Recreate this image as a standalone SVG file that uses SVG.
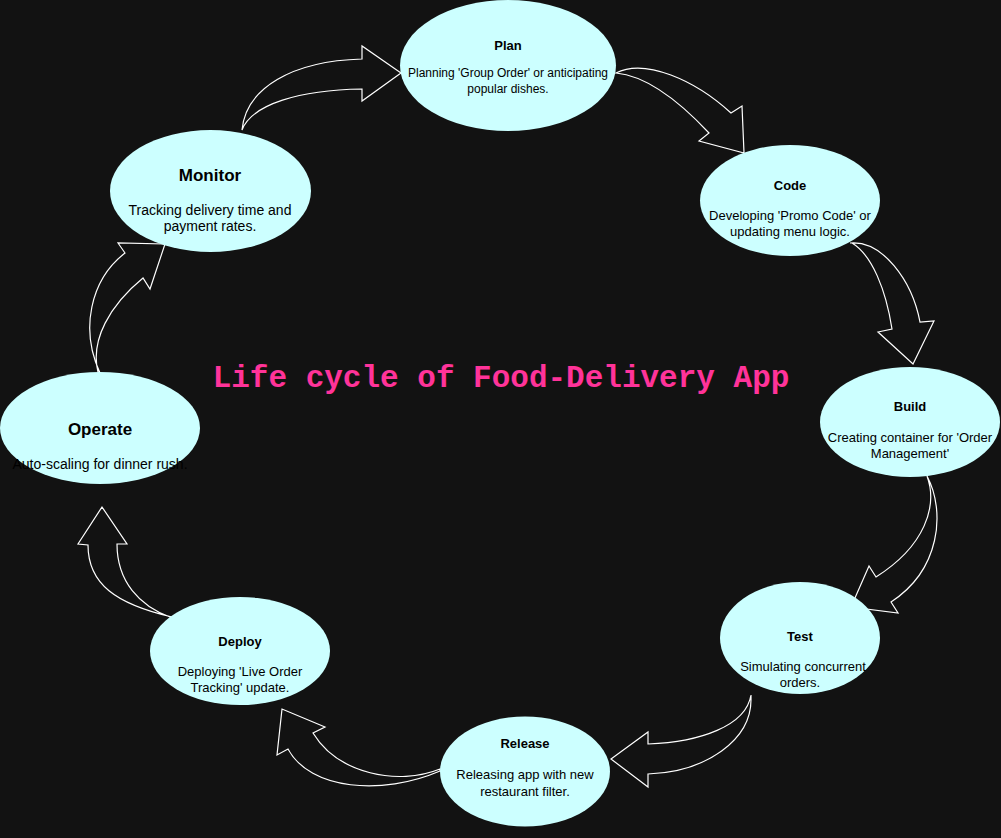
<svg xmlns="http://www.w3.org/2000/svg" width="1001" height="838" viewBox="0 0 1001 838">
<style>
.node{fill:#ccffff;stroke:none}
.t{font-family:"Liberation Sans",Arial,sans-serif;fill:#000;text-anchor:middle}
.h{font-weight:bold;font-size:13px}
.hb{font-weight:bold;font-size:17px}
.b12{font-size:12px}
.b13{font-size:13px}
.b14{font-size:14px}
.arr{fill:none;stroke:#ffffff;stroke-width:1.2;stroke-linejoin:miter}
.title{font-family:"Liberation Mono","Courier New",monospace;font-weight:bold;font-size:31px;fill:#ff3399;text-anchor:middle}
</style>
<rect width="1001" height="838" fill="#121212"/>
<g id="connectors">
<path class="arr" d="M242,130 C246,88 292,61 362,59 L362,46 L401,73 L362,101 L362,89 C300,90 252,104 242,130 Z"/>
<path class="arr" d="M616,73 C645,58 695,80 731,113 L742,106 L744,153 L699,141 L709,133 C680,102 648,76 616,73 Z"/>
<path class="arr" d="M850,243 C882,240 912,280 920,322 L934,321 L913,364 L878,332 L892,329 C886,290 872,255 852,243 Z"/>
<path class="arr" d="M927,476 C946,512 940,570 891,602 L898,613 L851,607 L869,566 L876,577 C925,546 938,506 927,476 Z"/>
<path class="arr" d="M751,695 C746,726 700,742 648,744 L648,732 L611,759 L648,787 L648,774 C706,772 752,740 751,698 Z"/>
<path class="arr" d="M440,769 C398,786 338,774 313,733 L325,727 L282,709 L277,755 L288,749 C310,790 382,796 440,771 Z"/>
<path class="arr" d="M172,617 C116,604 88,584 88,545 L78,544 L102,507 L127,544 L117,544 C117,582 140,606 170,617 Z"/>
<path class="arr" d="M100,373 C80,330 90,280 125,253 L118,243 L165,244 L150,289 L143,278 C110,305 90,340 98,372 Z"/>
</g>
<g id="plan">
<ellipse class="node" cx="508" cy="65.5" rx="108" ry="65.5"/>
<text class="t h" x="508" y="50">Plan</text>
<text class="t b12" x="508" y="77">Planning 'Group Order' or anticipating</text>
<text class="t b12" x="508" y="93">popular dishes.</text>
</g>
<g id="code">
<ellipse class="node" cx="790" cy="200.5" rx="90" ry="55.5"/>
<text class="t h" x="790" y="190">Code</text>
<text class="t b13" x="790" y="220">Developing 'Promo Code' or</text>
<text class="t b13" x="790" y="236">updating menu logic.</text>
</g>
<g id="build">
<ellipse class="node" cx="910" cy="422" rx="90" ry="55"/>
<text class="t h" x="910" y="411">Build</text>
<text class="t b13" x="910" y="442">Creating container for 'Order</text>
<text class="t b13" x="910" y="458">Management'</text>
</g>
<g id="test">
<ellipse class="node" cx="800" cy="638" rx="80" ry="56"/>
<text class="t h" x="800" y="641">Test</text>
<text class="t b13" x="803" y="671">Simulating concurrent</text>
<text class="t b13" x="800" y="687">orders.</text>
</g>
<g id="release">
<ellipse class="node" cx="525" cy="771.5" rx="85" ry="55"/>
<text class="t h" x="525" y="748">Release</text>
<text class="t b13" x="525" y="779">Releasing app with new</text>
<text class="t b13" x="525" y="796">restaurant filter.</text>
</g>
<g id="deploy">
<ellipse class="node" cx="240" cy="651" rx="90" ry="54"/>
<text class="t h" x="240" y="646">Deploy</text>
<text class="t b13" x="240" y="676">Deploying 'Live Order</text>
<text class="t b13" x="240" y="692">Tracking' update.</text>
</g>
<g id="operate">
<ellipse class="node" cx="100" cy="428" rx="100" ry="56"/>
<text class="t hb" x="100" y="435">Operate</text>
<text class="t b14" x="100" y="469">Auto-scaling for dinner rush.</text>
</g>
<g id="monitor">
<ellipse class="node" cx="210.5" cy="191" rx="100.5" ry="61"/>
<text class="t hb" x="210" y="181">Monitor</text>
<text class="t b14" x="210" y="215">Tracking delivery time and</text>
<text class="t b14" x="210" y="231">payment rates.</text>
</g>
<text class="title" x="501" y="387">Life cycle of Food-Delivery App</text>
</svg>
